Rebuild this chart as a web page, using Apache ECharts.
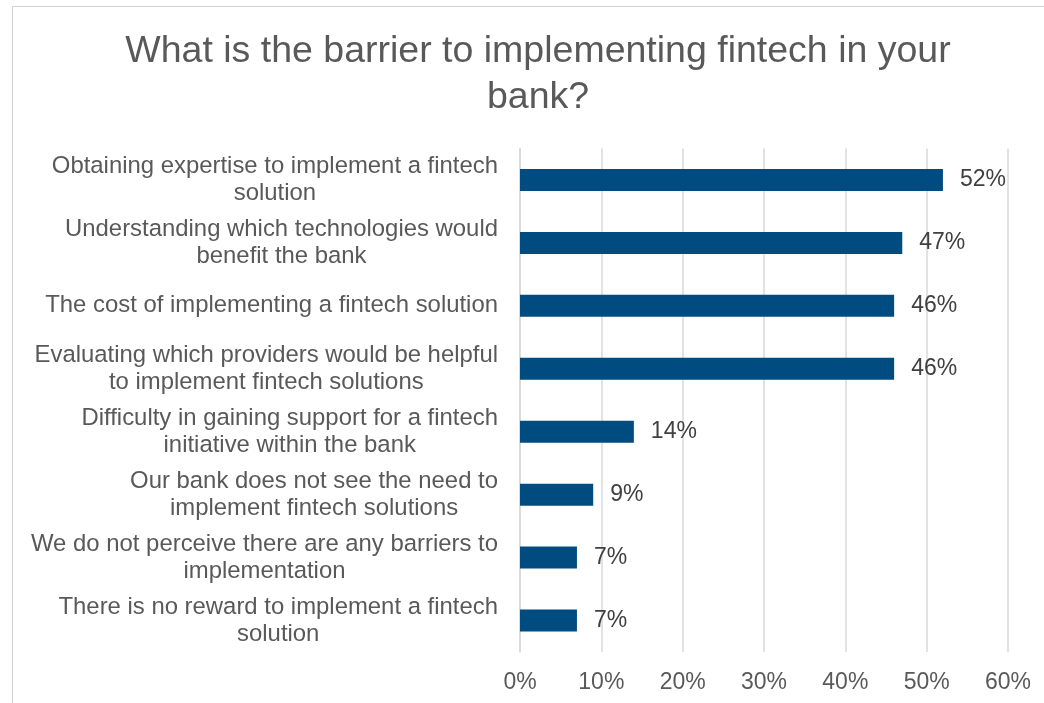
<!DOCTYPE html>
<html>
<head>
<meta charset="utf-8">
<script src="https://cdn.jsdelivr.net/npm/echarts@6/dist/echarts.min.js"></script>
<style>
  html, body { margin: 0; padding: 0; background: #ffffff; }
  #chart { width: 1044px; height: 703px; }
</style>
</head>
<body>
<div id="chart"></div>
<script>
// Survey responses: barriers to implementing fintech
const titleText = 'What is the barrier to implementing fintech in your\nbank?';

const categories = [
  'Obtaining expertise to implement a fintech\nsolution',
  'Understanding which technologies would\nbenefit the bank',
  'The cost of implementing a fintech solution',
  'Evaluating which providers would be helpful\nto implement fintech solutions',
  'Difficulty in gaining support for a fintech\ninitiative within the bank',
  'Our bank does not see the need to\nimplement fintech solutions',
  'We do not perceive there are any barriers to\nimplementation',
  'There is no reward to implement a fintech\nsolution'
];

const shares = [52, 47, 46, 46, 14, 9, 7, 7];

const tickMin = 0;
const tickMax = 60;
const tickStep = 10;

const FONT = '"Liberation Sans", Arial, sans-serif';
const chart = echarts.init(document.getElementById('chart'));

chart.setOption({
  animation: false,
  backgroundColor: '#ffffff',
  graphic: [{
    type: 'rect',
    shape: { x: 12.5, y: 6.5, width: 1100, height: 800 },
    style: { fill: 'none', stroke: '#d0d0cd', lineWidth: 1 },
    silent: true,
    z: -1
  }],
  title: {
    text: titleText,
    left: 533,
    textAlign: 'center',
    top: 24,
    textStyle: {
      fontFamily: FONT,
      fontSize: 37.5,
      fontWeight: 'normal',
      color: '#595959',
      lineHeight: 46
    }
  },
  grid: {
    left: 520,
    right: 36,
    top: 148.5,
    bottom: 51
  },
  xAxis: {
    type: 'value',
    min: tickMin,
    max: tickMax,
    interval: tickStep,
    axisLine: { show: false },
    axisTick: { show: false },
    splitLine: { show: true, lineStyle: { color: '#d9d9d9', width: 1.5 } },
    axisLabel: {
      formatter: '{value}%',
      fontFamily: FONT,
      fontSize: 23,
      color: '#595959',
      margin: 19
    }
  },
  yAxis: {
    type: 'category',
    data: categories,
    inverse: true,
    axisLine: { show: true, lineStyle: { color: '#d9d9d9', width: 1.5 } },
    axisTick: { show: false },
    axisLabel: {
      align: 'right',
      margin: 22,
      formatter: function (v) {
        return v.split('\n').map(function (l) { return '{c|' + l + '}'; }).join('\n');
      },
      rich: {
        c: {
          align: 'center',
          fontFamily: FONT,
          fontSize: 23.9,
          color: '#595959',
          lineHeight: 27
        }
      }
    }
  },
  series: [{
    type: 'bar',
    data: shares,
    barWidth: 22,
    itemStyle: { color: '#004b7f' },
    label: {
      show: true,
      position: 'right',
      distance: 17,
      formatter: '{c}%',
      fontFamily: FONT,
      fontSize: 23,
      color: '#404040'
    }
  }]
});
</script>
</body>
</html>
